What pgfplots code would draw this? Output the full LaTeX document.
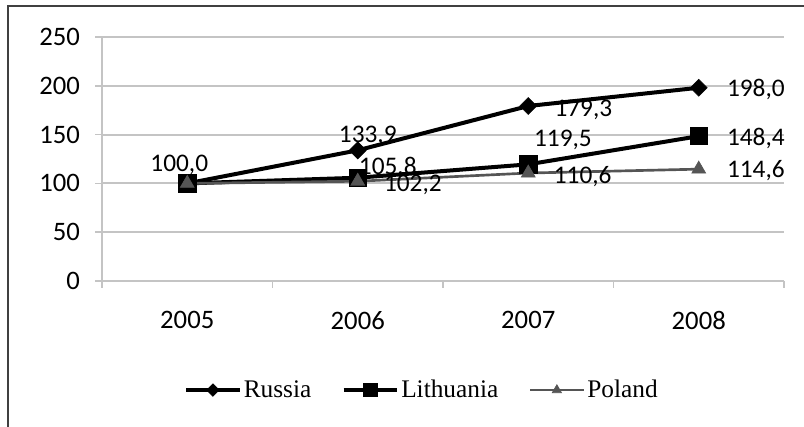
\documentclass[border=0pt]{standalone}
\usepackage{pgfplots}
\pgfplotsset{compat=1.18}
\usepackage{fontspec}
\setmainfont{Liberation Serif}
\newfontfamily\carl{Carlito}
\definecolor{gridc}{HTML}{C4C4C4}
\definecolor{polc}{HTML}{555555}
\begin{document}
\begin{tikzpicture}[x=0.75pt,y=0.75pt]
\begin{axis}[
  name=ax,
  scale only axis, width=511.5pt, height=183pt,
  xmin=-0.5, xmax=3.5, ymin=0, ymax=250,
  axis x line=bottom, axis y line=left,
  axis line style={-, gridc, line width=1.5pt},
  xtick={-0.5,0.5,1.5,2.5,3.5},
  x tick label as interval,
  xticklabels={2005,2006,2007,2008},
  ytick={0,50,100,150,200,250},
  ymajorgrids, grid style={gridc, line width=1.5pt},
  tick align=outside,
  major tick length=5pt,
  tick style={gridc, line width=1.2pt},
  ticklabel style={font=\carl\fontsize{20}{24}\selectfont},
  xticklabel style={yshift=-14pt},
  yticklabel style={xshift=-8pt},
  /pgf/number format/assume math mode=true,
  clip=false,
  legend style={at={(0.47,-0.447)}, anchor=center, draw=none, fill=none,
    font=\fontsize{19}{22}\selectfont, legend columns=3,
    /tikz/every even column/.append style={column sep=21pt}},
  legend image code/.code={\draw[mark repeat=2,mark phase=2] plot coordinates {(0pt,0pt) (20pt,0pt) (40pt,0pt)};},
]
\addplot[black, line width=3pt, mark=square*, mark size=4.5pt,
  mark options={rotate=45, solid, line width=0.5pt},
  legend image post style={mark size=3.3pt, line width=2.4pt}]
  coordinates {(0,100) (1,133.9) (2,179.3) (3,198.0)};
\addlegendentry{Russia}
\addplot[black, line width=3pt, mark=square*, mark size=6.5pt,
  mark options={solid, line width=0.5pt},
  legend image post style={mark size=5pt, line width=2.4pt}]
  coordinates {(0,100) (1,105.8) (2,119.5) (3,148.4)};
\addlegendentry{Lithuania}
\addplot[polc, line width=2pt, mark=triangle*, mark size=6pt,
  mark options={solid, line width=0.5pt},
  legend image post style={mark size=4pt, line width=1.8pt}]
  coordinates {(0,100) (1,102.2) (2,110.6) (3,114.6)};
\addlegendentry{Poland}
\begin{scope}[every node/.style={font=\carl\fontsize{19}{22}\selectfont, inner sep=0pt}]
\node[anchor=center, xshift=-6pt, yshift=13.5pt] at (axis cs:0,100) {100,0};
\node[anchor=center, xshift=7.5pt, yshift=11pt] at (axis cs:1,133.9) {133,9};
\node[anchor=west, xshift=19.5pt, yshift=-3pt] at (axis cs:2,179.3) {179,3};
\node[anchor=west, xshift=21pt, yshift=-1.5pt] at (axis cs:3,198.0) {198,0};
\node[anchor=center, xshift=22.5pt, yshift=7.5pt] at (axis cs:1,105.8) {105,8};
\node[anchor=center, xshift=26pt, yshift=18pt] at (axis cs:2,119.5) {119,5};
\node[anchor=west, xshift=21pt, yshift=-1.5pt] at (axis cs:3,148.4) {148,4};
\node[anchor=west, xshift=19.5pt, yshift=-3pt] at (axis cs:1,102.2) {102,2};
\node[anchor=west, xshift=19pt, yshift=-3pt] at (axis cs:2,110.6) {110,6};
\node[anchor=west, xshift=21pt, yshift=-0.75pt] at (axis cs:3,114.6) {114,6};
\end{scope}
\end{axis}
\path[use as bounding box] ([shift={(-102,-146)}]ax.south west) rectangle ([shift={(702,281)}]ax.south west);
\draw[line width=1.5pt, color=black!75] ([shift={(-94,-146)}]ax.south west) -- ([shift={(-94,275)}]ax.south west) -- ([shift={(702,275)}]ax.south west);
\end{tikzpicture}
\end{document}
